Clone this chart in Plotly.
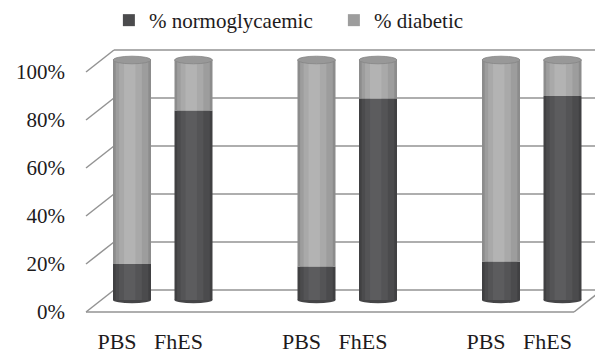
import plotly.graph_objects as go

# ---------------- data ----------------
labels = ["PBS", "FhES", "PBS", "FhES", "PBS", "FhES"]
normoglycaemic = [15, 79, 14, 84, 16, 85]
diabetic = [85, 21, 86, 16, 84, 15]
y_ticks = [0, 20, 40, 60, 80, 100]
y_ticktext = ["0%", "20%", "40%", "60%", "80%", "100%"]
series_names = ["% normoglycaemic", "% diabetic"]

# ---------------- geometry / style ----------------
W, H = 595, 358
ML, MR, MT, MB = 75, 0, 45, 38
PX_X = 61.5          # px per x unit
PX_Y = 2.4           # px per percent
X0_PX = 132          # pixel of x = 0
GROUP_STEP = 3
x_pos = [(i // 2) * GROUP_STEP + (i % 2) for i in range(len(labels))]
BAR_W = 38 / PX_X

x_lo = (ML - X0_PX) / PX_X
x_hi = x_lo + (W - ML - MR) / PX_X
plot_h = H - MT - MB
y_lo = -(MT + plot_h - 300) / PX_Y   # bar base (0%) at pixel 300
y_hi = y_lo + plot_h / PX_Y

GRID_OFF = 10 / PX_Y      # back wall is 10px above bar base level
LABEL_OFF = -12 / PX_Y    # front plane is 12px below bar base level
FRONT_X = (86 - X0_PX) / PX_X
BACK_X = (114 - X0_PX) / PX_X
FLOOR_RIGHT = (574 - X0_PX) / PX_X
DEPTH_DX = 28 / PX_X
DEPTH_DY = 22 / PX_Y

FONT = "Liberation Serif, Times New Roman, Times, serif"
TXT = "#1e1b1c"
GRID_C = "#939393"

dark_layers = [(1.0, "#404042", 0.0), (0.86, "#4b4b4d", 0.0), (0.6, "#545456", -0.04), (0.3, "#5c5c5e", -0.06)]
light_layers = [(1.0, "#8c8c8c", 0.0), (0.86, "#9d9d9d", 0.0), (0.6, "#a9a9a9", -0.04), (0.3, "#b3b3b3", -0.06)]

fig = go.Figure()

for name, vals, base, layers in [
    (series_names[0], normoglycaemic, [0] * len(normoglycaemic), dark_layers),
    (series_names[1], diabetic, normoglycaemic, light_layers),
]:
    for k, (wf, col, sh) in enumerate(layers):
        w = BAR_W * wf
        fig.add_trace(go.Bar(
            x=x_pos, y=vals, base=base,
            width=[w] * len(x_pos),
            offset=[-w / 2 + sh * BAR_W] * len(x_pos),
            marker=dict(color=col, line=dict(width=0)),
            name=name, legendgroup=name,
            showlegend=(k == 1),
            hoverinfo="skip",
        ))

shapes = []
for v in y_ticks:
    # back wall gridlines
    shapes.append(dict(type="line", xref="x", yref="y", x0=BACK_X, x1=x_hi,
                       y0=v + GRID_OFF, y1=v + GRID_OFF,
                       line=dict(color=GRID_C, width=1.5), layer="below"))
    # left wall diagonals
    shapes.append(dict(type="line", xref="x", yref="y", x0=FRONT_X, x1=BACK_X,
                       y0=v + LABEL_OFF, y1=v + GRID_OFF,
                       line=dict(color=GRID_C, width=1.5), layer="below"))
# floor front edge and right edge
shapes.append(dict(type="line", xref="x", yref="y", x0=FRONT_X, x1=FLOOR_RIGHT,
                   y0=y_ticks[0] + LABEL_OFF, y1=y_ticks[0] + LABEL_OFF,
                   line=dict(color=GRID_C, width=1.5), layer="below"))
shapes.append(dict(type="line", xref="x", yref="y", x0=FLOOR_RIGHT, x1=FLOOR_RIGHT + DEPTH_DX,
                   y0=y_ticks[0] + LABEL_OFF, y1=y_ticks[0] + LABEL_OFF + DEPTH_DY,
                   line=dict(color=GRID_C, width=1.5), layer="below"))

# cylinder bottoms and tops
bot_h = 3.2 / PX_Y
cap_h = 3.8 / PX_Y
for xi, n, d in zip(x_pos, normoglycaemic, diabetic):
    shapes.append(dict(type="circle", xref="x", yref="y",
                       x0=xi - BAR_W / 2, x1=xi + BAR_W / 2,
                       y0=-bot_h, y1=bot_h,
                       fillcolor="#454547", line=dict(width=0), layer="below"))
    top = n + d
    shapes.append(dict(type="circle", xref="x", yref="y",
                       x0=xi - BAR_W / 2, x1=xi + BAR_W / 2,
                       y0=top - cap_h, y1=top + cap_h,
                       fillcolor="#989898", line=dict(color="#858585", width=0.8), layer="above"))

fig.update_layout(
    width=W, height=H,
    margin=dict(l=ML, r=MR, t=MT, b=MB, autoexpand=False),
    barmode="overlay",
    plot_bgcolor="white", paper_bgcolor="white",
    font=dict(family=FONT, size=21, color=TXT),
    shapes=shapes,
    showlegend=True,
    legend=dict(orientation="h", xref="container", yref="container",
                x=0.183, y=1.0, xanchor="left", yanchor="top",
                font=dict(family=FONT, size=21, color=TXT),
                itemclick=False, itemdoubleclick=False,
                entrywidth=180, entrywidthmode="pixels"),
    xaxis=dict(range=[x_lo, x_hi], tickvals=[p - 15 / PX_X for p in x_pos], ticktext=labels,
               showgrid=False, zeroline=False, showline=False, ticks="", automargin=False,
               tickfont=dict(family=FONT, size=22, color=TXT), ticklabelstandoff=6),
    yaxis=dict(range=[y_lo, y_hi], tickvals=[v + LABEL_OFF for v in y_ticks], ticktext=y_ticktext,
               showgrid=False, zeroline=False, showline=False, ticks="", automargin=False,
               tickfont=dict(family=FONT, size=21, color=TXT), ticklabelstandoff=9),
)

fig.write_html("out.html", config={"displayModeBar": False, "staticPlot": True},
               post_script="document.body.style.margin='0';document.body.style.overflow='hidden';")
